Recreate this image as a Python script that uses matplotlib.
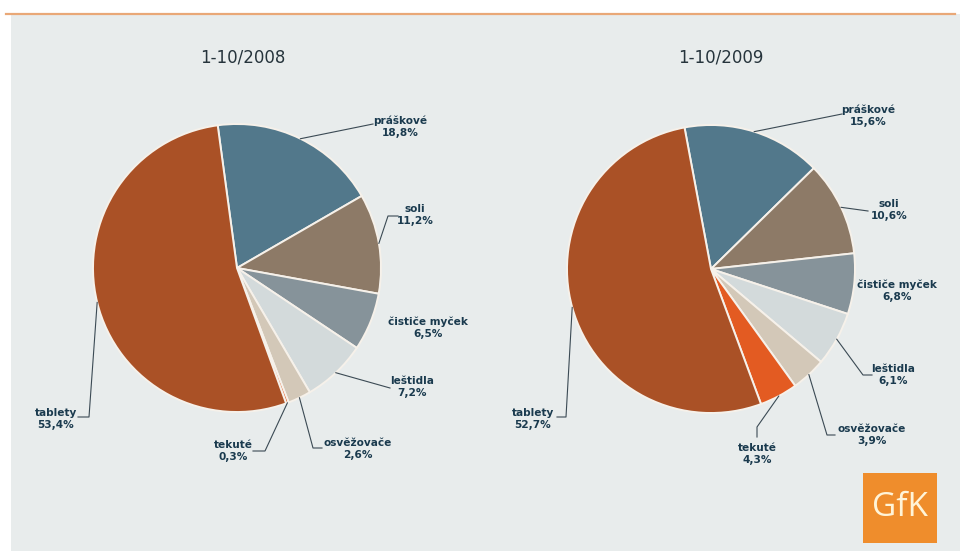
import numpy as np
import matplotlib
matplotlib.use('Agg')
import matplotlib.pyplot as plt
from matplotlib.patches import Rectangle

W, H = 960, 551

categories = ['práškové', 'soli', 'čističe myček', 'leštidla', 'osvěžovače', 'tekuté', 'tablety']
share_2008 = [18.8, 11.2, 6.5, 7.2, 2.6, 0.3, 53.4]
share_2009 = [15.6, 10.6, 6.8, 6.1, 3.9, 4.3, 52.7]
titles = ['1-10/2008', '1-10/2009']

colors = ['#52788b', '#8d7a67', '#86939a', '#d3dadb', '#d3c8b8', '#e35b22', '#aa5126']
text_col = '#1a3a4e'
line_col = '#3b4a54'

# layout in pixel coordinates (y measured from the top)
pies = [
    dict(values=share_2008, title=titles[0], center=(237, 268), start=97.7, title_x=243,
         labels=[(400, 127), (415, 215), (428, 328), (412, 387), (358, 449), (233, 451), (56, 419)],
         leaders=[[(373, 124)], [(388, 216), (398, 216)], [], [(390, 388)],
                  [(313, 448), (322, 448)], [(265, 451), (253, 451)], [(89, 417), (78, 417)]]),
    dict(values=share_2009, title=titles[1], center=(711, 269), start=100.6, title_x=721,
         labels=[(868, 116), (889, 210), (897, 291), (893, 375), (872, 435), (757, 454), (533, 419)],
         leaders=[[(842, 114)], [(868, 211)], [], [(863, 375), (872, 375)],
                  [(827, 435), (835, 435)], [(757, 427), (757, 437)], [(566, 417), (557, 417)]]),
]
radius = 144


def py(y):
    return H - y


fig = plt.figure(figsize=(9.6, 5.51), dpi=100)
fig.patch.set_facecolor('white')
ax = fig.add_axes([0, 0, 1, 1])
ax.set_xlim(0, W)
ax.set_ylim(0, H)
ax.set_aspect('equal')
ax.axis('off')

# panel background and top rule
ax.add_patch(Rectangle((11, 0), W - 11, py(14), facecolor='#e8ecec', edgecolor='none', zorder=0))
ax.plot([6, 955], [py(14), py(14)], color='#e9a877', lw=1.6, zorder=1)

for p in pies:
    cx, cy = p['center']
    wedges, _ = ax.pie(p['values'], colors=colors, startangle=p['start'], counterclock=False,
                       center=(cx, py(cy)), radius=radius, frame=True,
                       wedgeprops=dict(edgecolor='#f6f1ea', linewidth=1.4))
    ax.text(p['title_x'], py(58), p['title'], ha='center', va='center', fontsize=12,
            color='#26343c')
    for w, name, val, (tx, ty), pts in zip(wedges, categories, p['values'], p['labels'], p['leaders']):
        ang = np.deg2rad((w.theta1 + w.theta2) / 2)
        if pts:
            xs = [cx + radius * np.cos(ang)] + [q[0] for q in pts]
            ys = [py(cy) + radius * np.sin(ang)] + [py(q[1]) for q in pts]
            ax.plot(xs, ys, color=line_col, lw=0.8, zorder=5)
        pct = f'{val:.1f}'.replace('.', ',') + '%'
        ax.text(tx, py(ty), f'{name}\n{pct}', ha='center', va='center', fontsize=7.6,
                fontweight='bold', color=text_col, linespacing=1.3, zorder=6)

ax.set_xlim(0, W)
ax.set_ylim(0, H)
ax.axis('off')

# GfK logo
ax.add_patch(Rectangle((863, py(543)), 74, 70, facecolor='#ef8d2c', edgecolor='none', zorder=3))
ax.text(900, py(508), 'GfK', ha='center', va='center', fontsize=24, color='#fff4d8',
        family='Open Sans', zorder=4)

fig.savefig('out.png', dpi=100, facecolor=fig.get_facecolor())
